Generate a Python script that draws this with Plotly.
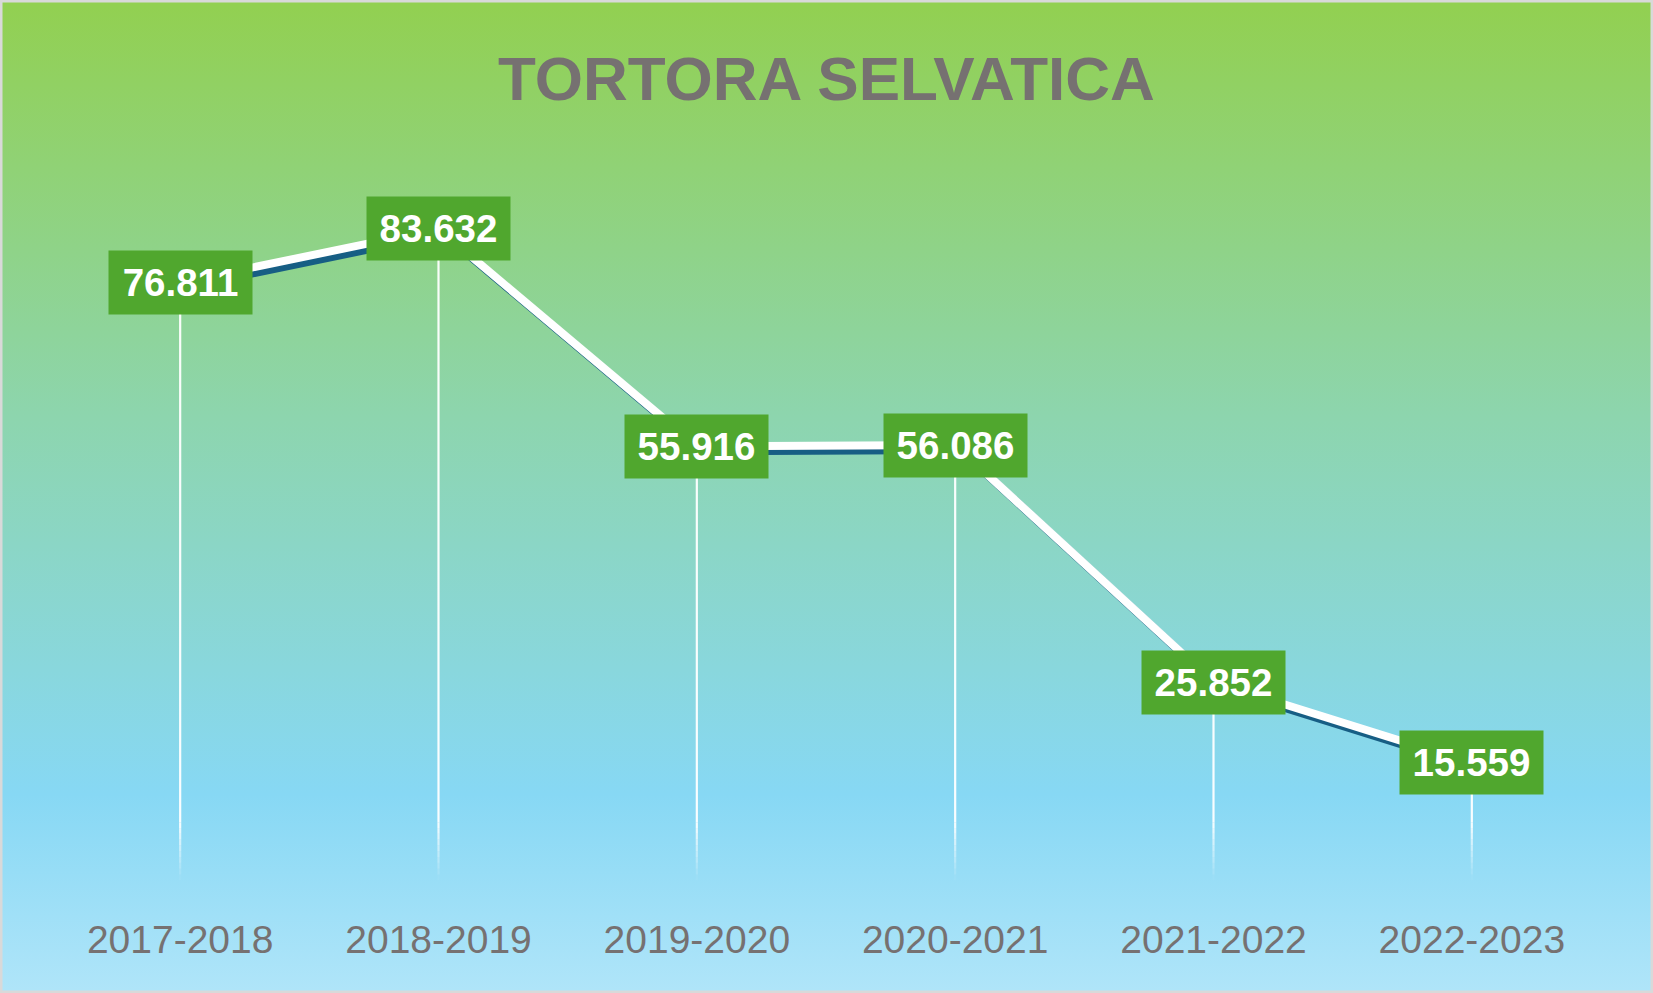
import base64
import plotly.graph_objects as go

# ---- data ----
seasons = ["2017-2018", "2018-2019", "2019-2020", "2020-2021", "2021-2022", "2022-2023"]
values = [76.811, 83.632, 55.916, 56.086, 25.852, 15.559]
labels = ["76.811", "83.632", "55.916", "56.086", "25.852", "15.559"]
title_text = "TORTORA SELVATICA"

# ---- geometry / style ----
W, H = 1653, 993
plot_l, plot_r = 51, 1601        # px
plot_top, plot_bot = 179, 885    # px
y_max = 90.0
px_per_x = (plot_r - plot_l) / len(seasons)
px_per_y = (plot_bot - plot_top) / y_max
shadow_dx, shadow_dy = 5, 5      # px offset of the line shadow
sx = shadow_dx / px_per_x
sy = shadow_dy / px_per_y

green_box = "#50A72E"
shadow_col = "#175E84"
gray = "#767171"

# background gradient (SVG data-uri)
svg = f'''<svg xmlns="http://www.w3.org/2000/svg" width="{W}" height="{H}" preserveAspectRatio="none">
<defs><linearGradient id="g" x1="0" y1="0" x2="0" y2="1">
<stop offset="0" stop-color="#92D050"/>
<stop offset="0.42" stop-color="#8DD5AE"/>
<stop offset="0.80" stop-color="#87D8F4"/>
<stop offset="1" stop-color="#B0E5F9"/>
</linearGradient></defs>
<rect x="0" y="0" width="{W}" height="{H}" fill="url(#g)"/>
</svg>'''
bg_uri = "data:image/svg+xml;base64," + base64.b64encode(svg.encode()).decode()

fig = go.Figure()

# shadow line (main axes, range shifted so it lands down-right)
fig.add_trace(go.Scatter(x=seasons, y=values, mode="lines",
                         line=dict(color=shadow_col, width=8),
                         xaxis="x", yaxis="y", hoverinfo="skip", showlegend=False))

# drop lines with fading bottom
fade_lo, fade_hi, n_fade = 0.6, 8.0, 10
for s, v in zip(seasons, values):
    fig.add_trace(go.Scatter(x=[s, s], y=[fade_hi, v], mode="lines",
                             line=dict(color="rgba(255,255,255,0.95)", width=2.2),
                             xaxis="x2", yaxis="y2", hoverinfo="skip", showlegend=False))
    for k in range(n_fade):
        a = fade_lo + (fade_hi - fade_lo) * k / n_fade
        b = fade_lo + (fade_hi - fade_lo) * (k + 1) / n_fade
        op = 0.95 * (k + 0.5) / n_fade
        fig.add_trace(go.Scatter(x=[s, s], y=[a, b], mode="lines",
                                 line=dict(color=f"rgba(255,255,255,{op:.3f})", width=2.2),
                                 xaxis="x2", yaxis="y2", hoverinfo="skip", showlegend=False))

# white main line
fig.add_trace(go.Scatter(x=seasons, y=values, mode="lines",
                         line=dict(color="white", width=8),
                         xaxis="x2", yaxis="y2", hoverinfo="skip", showlegend=False))

# data labels
for s, v, t in zip(seasons, values, labels):
    fig.add_annotation(x=s, y=v, xref="x2", yref="y2", text=f"<b>{t}</b>", showarrow=False,
                       font=dict(family="Liberation Sans, Arial, sans-serif", size=38.5, color="white"),
                       bgcolor=green_box, width=127, height=47, borderpad=8,
                       xanchor="center", yanchor="middle")

dom_x = [plot_l / W, plot_r / W]
dom_y = [1 - plot_bot / H, 1 - plot_top / H]

fig.update_layout(
    width=W, height=H,
    margin=dict(l=0, r=0, t=0, b=0, autoexpand=False),
    paper_bgcolor="white", plot_bgcolor="rgba(0,0,0,0)",
    showlegend=False,
    title=dict(text=f"<b>{title_text}</b>", x=0.5, xanchor="center", xref="paper",
               y=1 - 78 / H, yanchor="middle", yref="paper",
               font=dict(family="Liberation Sans Narrow, Arial Narrow, Liberation Sans, sans-serif",
                         size=62, color=gray)),
    xaxis=dict(domain=dom_x, type="category", categoryorder="array", categoryarray=seasons,
               range=[-0.5 - sx, len(seasons) - 0.5 - sx],
               showgrid=False, zeroline=False, showline=False, showticklabels=False, ticks=""),
    yaxis=dict(domain=dom_y, range=[0 + sy, y_max + sy],
               showgrid=False, zeroline=False, showline=False, showticklabels=False, ticks=""),
    xaxis2=dict(overlaying="x", side="bottom", type="category", categoryorder="array",
                categoryarray=seasons, range=[-0.5, len(seasons) - 0.5],
                showgrid=False, zeroline=False, showline=False, ticks="",
                ticklabelstandoff=28,
                tickfont=dict(family="Liberation Sans, Arial, sans-serif", size=39, color=gray)),
    yaxis2=dict(overlaying="y", range=[0, y_max],
                showgrid=False, zeroline=False, showline=False, showticklabels=False, ticks=""),
    images=[dict(source=bg_uri, xref="paper", yref="paper", x=0, y=1, sizex=1, sizey=1,
                 xanchor="left", yanchor="top", sizing="stretch", layer="below")],
    shapes=[dict(type="rect", xref="paper", yref="paper", x0=0, y0=0, x1=1, y1=1,
                 line=dict(color="#D9D9D9", width=5), fillcolor="rgba(0,0,0,0)")],
)

fig.write_html("out.html", config={"displayModeBar": False},
               post_script="document.body.style.margin='0';")
